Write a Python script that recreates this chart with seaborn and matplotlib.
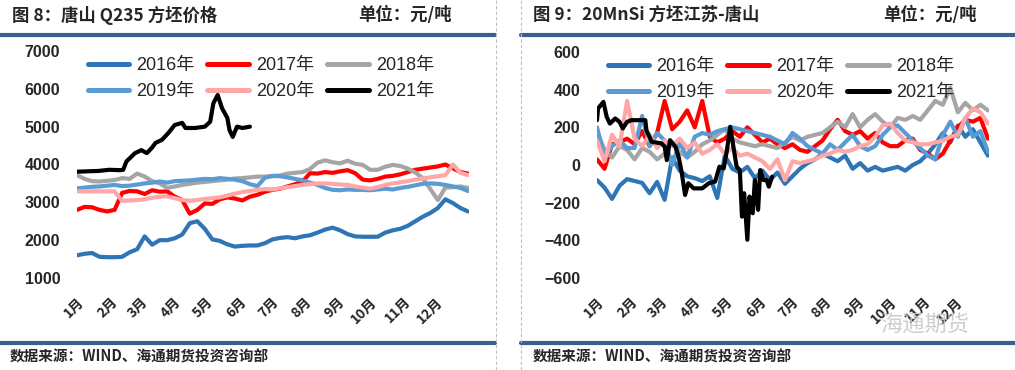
import matplotlib
matplotlib.use('Agg')
import matplotlib.pyplot as plt
from matplotlib.lines import Line2D
import pandas as pd
import seaborn as sns


# --------------------------------------------------------
#       DATA
# --------------------------------------------------------

YEARS = ['2016年', '2017年', '2018年', '2019年', '2020年', '2021年']
COLORS = ['#2E75B6', '#FF0000', '#A5A5A5', '#5B9BD5', '#FFA7A7', '#000000']

MONTH_DAYS = [0, 31, 59, 90, 120, 151, 181, 212, 243, 273, 304, 334]
MONTH_LABELS = ['1月', '2月', '3月', '4月', '5月', '6月',
                '7月', '8月', '9月', '10月', '11月', '12月']

# weekly sampling, day of year
WEEK_DAYS = list(range(0, 365, 7))

# fig 8 : Tangshan Q235 billet price (yuan/t)
q235_2016 = [1600, 1640, 1660, 1560, 1550, 1550, 1560, 1680, 1760, 2100,
             1880, 2000, 2000, 2050, 2150, 2450, 2500, 2300, 2020, 1980,
             1890, 1830, 1850, 1860, 1860, 1920, 2020, 2060, 2080, 2050,
             2100, 2130, 2200, 2280, 2330, 2260, 2160, 2100, 2090, 2090,
             2090, 2200, 2260, 2300, 2380, 2500, 2620, 2720, 2850, 3080,
             2980, 2850, 2760]
q235_2017 = [2800, 2880, 2870, 2800, 2760, 2800, 3250, 3300, 3290, 3220,
             3320, 3280, 3290, 3150, 3060, 2700, 2800, 2970, 2960, 3080,
             3130, 3100, 3050, 3150, 3200, 3280, 3330, 3360, 3420, 3480,
             3550, 3770, 3760, 3800, 3780, 3820, 3850, 3770, 3600, 3580,
             3620, 3680, 3700, 3740, 3800, 3860, 3890, 3920, 3950, 4000,
             3900, 3800, 3760]
q235_2018 = [3720, 3620, 3560, 3550, 3570, 3590, 3640, 3620, 3760, 3680,
             3560, 3500, 3380, 3420, 3460, 3490, 3520, 3540, 3560, 3580,
             3600, 3630, 3640, 3660, 3680, 3680, 3690, 3710, 3760, 3780,
             3800, 3880, 4050, 4110, 4060, 4030, 4100, 4020, 3990, 3860,
             3860, 3940, 3990, 3960, 3890, 3790, 3640, 3350, 3060, 3390,
             3400, 3420, 3380]
q235_2019 = [3370, 3390, 3410, 3420, 3440, 3460, 3430, 3440, 3470, 3500,
             3520, 3550, 3520, 3560, 3570, 3580, 3600, 3620, 3610, 3640,
             3620, 3600, 3560, 3480, 3430, 3650, 3700, 3690, 3660, 3620,
             3580, 3520, 3460, 3380, 3330, 3320, 3340, 3330, 3330, 3320,
             3340, 3360, 3340, 3380, 3410, 3450, 3490, 3500, 3490, 3460,
             3420, 3380, 3300]
q235_2020 = [3290, 3290, 3290, 3290, 3290, 3290, 3040, 3050, 3060, 3080,
             3120, 3150, 3160, 3110, 3060, 3040, 3060, 3090, 3110, 3130,
             3180, 3230, 3270, 3300, 3330, 3350, 3340, 3370, 3400, 3430,
             3460, 3480, 3500, 3500, 3490, 3470, 3460, 3420, 3390, 3360,
             3400, 3460, 3500, 3530, 3560, 3600, 3630, 3660, 3690, 3720,
             4000, 3780, 3720]
q235_2021_days = [0, 10, 20, 30, 40, 43, 46, 54, 60, 65,
                  70, 73, 79, 85, 91, 98, 101, 110, 119, 124,
                  127, 131, 135, 140, 142, 145, 149, 154, 161]
q235_2021 = [3810, 3820, 3830, 3860, 3850, 3860, 4080, 4300, 4380, 4300,
             4450, 4570, 4650, 4830, 5045, 5100, 4965, 4965, 5000, 5130,
             5620, 5837, 5490, 5230, 4910, 4730, 5000, 4965, 5000]

# fig 9 : 20MnSi billet spread Jiangsu - Tangshan (yuan/t)
spread_2016 = [-80, -120, -180, -110, -75, -85, -95, -150, -90, -185,
               40, -30, -60, -70, -85, -60, -175, 50, -20, -40,
               -10, -70, -30, -80, -40, -100, -60, -20, 10, 30,
               60, 40, 20, 50, -20, 10, -30, -10, -30, -20,
               -10, -30, 0, 20, 60, 110, 170, 120, 210, 150,
               190, 120, 50]
spread_2017 = [30, -20, 110, 120, 140, 110, 180, 100, 170, 340,
               190, 230, 290, 200, 340, 150, 120, 140, 180, 150,
               200, 160, 120, 140, 110, 90, 110, 80, 70, 100,
               130, 190, 240, 180, 160, 180, 140, 170, 120, 100,
               100, 130, 140, 80, 60, 30, 60, 130, 200, 240,
               230, 250, 140]
spread_2018 = [180, 80, 40, 100, 80, 30, 90, 70, 30, 60,
               20, 70, 40, 70, 110, 130, 160, 190, 140, 120,
               110, 100, 110, 100, 90, 120, 150, 130, 150, 160,
               170, 200, 230, 200, 270, 200, 240, 270, 230, 200,
               250, 240, 260, 240, 290, 340, 320, 410, 280, 330,
               290, 320, 290]
spread_2019 = [200, 40, 100, 130, 90, 90, 260, 100, 170, 130,
               0, 120, 40, 150, 170, 160, 180, 190, 200, 190,
               180, 170, 160, 150, 130, 110, 170, 140, 100, 80,
               60, 110, 80, 120, 160, 100, 80, 100, 160, 200,
               210, 170, 130, 90, 50, 30, 160, 230, 150, 250,
               150, 180, 70]
spread_2020 = [130, 20, 160, 100, 340, 140, 100, 160, 90, 130,
               100, 140, 90, 120, 60, 80, 110, 60, 90, 50,
               60, 40, 20, -20, 30, -80, 20, 10, 20, 30,
               50, 60, 80, 70, 80, 100, 110, 150, 210, 220,
               170, 130, 120, 110, 110, 120, 130, 150, 160, 250,
               300, 280, 220]
spread_2021_days = [0, 1, 6, 9, 12, 17, 21, 24, 28, 32,
                    45, 46, 51, 60, 63, 65, 68, 73, 76, 79,
                    82, 85, 90, 98, 104, 110, 114, 118, 121, 124,
                    127, 130, 133, 135, 137, 140, 142, 145, 147, 150,
                    152, 155, 158, 160, 163]
spread_2021 = [238, 300, 335, 256, 220, 247, 229, 194, 229, 238,
               238, 185, 123, 115, 97, 26, 132, 97, 44, -44,
               -159, -97, -124, -124, -97, -88, -9, -18, 79, 203,
               97, -9, -27, -274, -150, -397, -168, -256, -80, -238,
               -27, -80, -80, -115, -62]


# --------------------------------------------------------
#       PLOTS
# --------------------------------------------------------

HEADER_BLUE = '#3A5F8F'
CJK = ['Noto Sans CJK SC', 'DejaVu Sans']


def to_long(series, days_2021):
    """build a long dataframe (day, value, year) for seaborn"""
    frames = []
    for year, values in zip(YEARS, series):
        days = days_2021 if year == '2021年' else WEEK_DAYS
        frames.append(pd.DataFrame({'day': days, 'value': values, 'year': year}))
    return pd.concat(frames, ignore_index=True)


def draw_panel(ax, df, ylim, yticks):
    sns.lineplot(data=df, x='day', y='value', hue='year', hue_order=YEARS,
                 palette=dict(zip(YEARS, COLORS)), estimator=None,
                 linewidth=3.0, legend=False, ax=ax)
    ax.set_xlim(0, 365)
    ax.set_ylim(*ylim)
    ax.set_yticks(yticks)
    ax.set_yticklabels([str(v).replace('-', '\u2212') for v in yticks],
                       fontsize=11.5, fontweight='bold', family='Liberation Sans')
    ax.set_xticks(MONTH_DAYS)
    ax.set_xticklabels(MONTH_LABELS, rotation=45, ha='right', va='top',
                       rotation_mode='anchor', fontsize=10, fontweight='bold',
                       family=CJK)
    ax.tick_params(axis='both', length=0)
    ax.tick_params(axis='y', pad=12)
    ax.tick_params(axis='x', pad=12)
    ax.set(xlabel='', ylabel='')
    for s in ax.spines.values():
        s.set_visible(False)
    ax.grid(False)

    # legend fills column by column -> reorder so rows read 2016 2017 2018 / 2019 2020 2021
    order = [0, 3, 1, 4, 2, 5]
    handles = [Line2D([], [], color=COLORS[i], lw=3.6) for i in order]
    labels = [YEARS[i] for i in order]
    ax.legend(handles, labels, ncol=3, loc='upper left', bbox_to_anchor=(0.0, 1.02),
              frameon=False, fontsize=13, handlelength=2.3, handletextpad=0.4,
              columnspacing=0.7, labelspacing=0.5, borderaxespad=0.2)


if __name__ == "__main__":

    sns.set_theme(style='white')
    plt.rcParams['font.family'] = ['Liberation Sans', 'Noto Sans CJK SC']

    fig = plt.figure(figsize=(10.15, 3.7), dpi=100)
    W, H = 1015.0, 370.0

    ax1 = fig.add_axes([77 / W, 1 - 278 / H, 392 / W, 227 / H])
    ax2 = fig.add_axes([597 / W, 1 - 278 / H, 392 / W, 226 / H])

    df_q235 = to_long([q235_2016, q235_2017, q235_2018, q235_2019, q235_2020, q235_2021],
                      q235_2021_days)
    df_spread = to_long([spread_2016, spread_2017, spread_2018, spread_2019, spread_2020,
                         spread_2021], spread_2021_days)

    draw_panel(ax1, df_q235, (1000, 7000), list(range(1000, 7001, 1000)))
    draw_panel(ax2, df_spread, (-600, 600), list(range(-600, 601, 200)))

    # header / footer bars
    for x0, x1 in [(0, 495), (521, 1015)]:
        fig.add_artist(Line2D([x0 / W, x1 / W], [1 - 34.5 / H] * 2, transform=fig.transFigure,
                              color=HEADER_BLUE, lw=3))
        fig.add_artist(Line2D([x0 / W, x1 / W], [1 - 343 / H] * 2, transform=fig.transFigure,
                              color=HEADER_BLUE, lw=3))
    # dashed separators between the two panels
    for x in [495.5, 520.5]:
        fig.add_artist(Line2D([x / W, x / W], [0, 1], transform=fig.transFigure,
                              color='#C0C0C0', lw=0.8, ls=(0, (3, 2))))

    # titles
    title_kw = dict(fontsize=12.5, fontweight='bold', family=CJK, va='center')
    fig.text(12 / W, 1 - 15 / H, '图 8：唐山 Q235 方坯价格', **title_kw)
    fig.text(358 / W, 1 - 15 / H, '单位：元/吨', **title_kw)
    fig.text(533 / W, 1 - 15 / H, '图 9：20MnSi 方坯江苏-唐山', **title_kw)
    fig.text(883 / W, 1 - 15 / H, '单位：元/吨', **title_kw)

    # sources
    src_kw = dict(fontsize=10.5, fontweight='bold', family=CJK, va='center')
    fig.text(10 / W, 1 - 357 / H, '数据来源：WIND、海通期货投资咨询部', **src_kw)
    fig.text(533 / W, 1 - 357 / H, '数据来源：WIND、海通期货投资咨询部', **src_kw)

    # watermark
    fig.text(880 / W, 1 - 325 / H, '海通期货', fontsize=16, color='#C8C8C8',
             family=CJK, va='center', alpha=0.9)

    fig.savefig('out.png', dpi=100)
